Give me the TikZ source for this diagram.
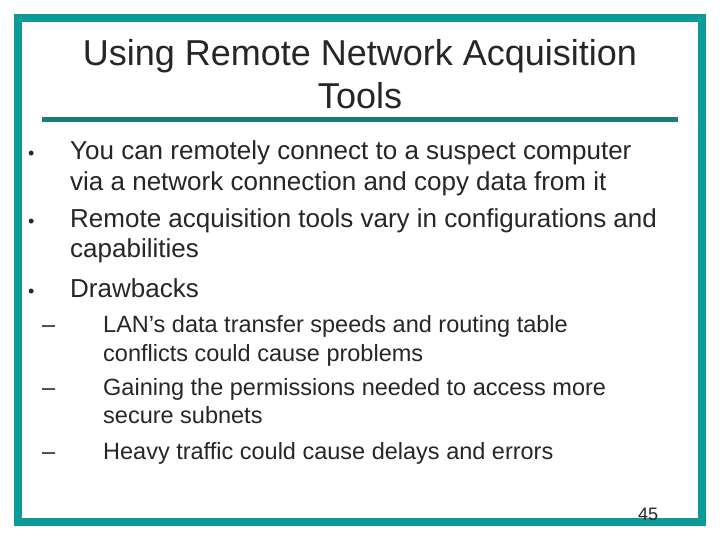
\documentclass[tikz,border=0pt]{standalone}
\usepackage{fontspec}
\setmainfont{Liberation Sans}
\definecolor{teal1}{HTML}{0E9A98}
\definecolor{teal2}{HTML}{197C7A}
\begin{document}
\begin{tikzpicture}[x=1pt,y=-1pt,
  txt/.style={anchor=base west,inner sep=0pt,text=black!85},
  big/.style={txt,font=\fontsize{26}{30}\selectfont},
  bul/.style={txt,font=\fontsize{18}{22}\selectfont},
  sub/.style={txt,font=\fontsize{23.5}{28}\selectfont}]
\useasboundingbox (0,0) rectangle (720,540);
\fill[white] (0,0) rectangle (720,540);
\draw[teal1,line width=8] (18,18) rectangle (702,522);
\fill[teal2] (42,117) rectangle (678,122);
\node[anchor=base,inner sep=0pt,font=\fontsize{36}{40}\selectfont,text=black!85] (t1) at (360,66) {Using Remote Network Acquisition};
\node[anchor=base,inner sep=0pt,font=\fontsize{36}{40}\selectfont,text=black!85] (t2) at (360,109) {Tools};
\node[bul] (b1) at (28,160) {•};
\node[big] (l1) at (70,160) {You can remotely connect to a suspect computer};
\node[big] (l2) at (70,191) {via a network connection and copy data from it};
\node[bul] (b2) at (28,227) {•};
\node[big] (l3) at (70,227) {Remote acquisition tools vary in configurations and};
\node[big] (l4) at (70,258) {capabilities};
\node[bul] (b3) at (28,297) {•};
\node[big] (l5) at (70,297) {Drawbacks};
\node[sub] (s1) at (42,332) {–};
\node[sub] (m1) at (103,332) {LAN’s data transfer speeds and routing table};
\node[sub] (m2) at (103,361) {conflicts could cause problems};
\node[sub] (s2) at (42,395) {–};
\node[sub] (m3) at (103,395) {Gaining the permissions needed to access more};
\node[sub] (m4) at (103,423) {secure subnets};
\node[sub] (s3) at (42,459) {–};
\node[sub] (m5) at (103,459) {Heavy traffic could cause delays and errors};
\node[txt,font=\fontsize{18}{20}\selectfont] (n) at (638,520) {45};
\end{tikzpicture}
\end{document}
